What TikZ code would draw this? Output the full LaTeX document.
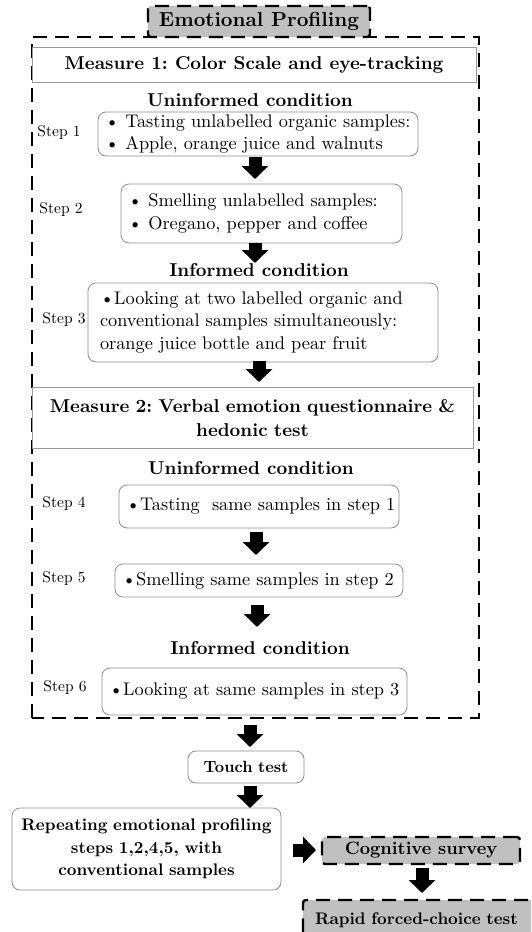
\documentclass[tikz,border=0pt]{standalone}
\usepackage{fontspec}
\setmainfont{lmroman10-regular.otf}[BoldFont=lmroman10-bold.otf]
\usetikzlibrary{arrows.meta}
\definecolor{boxgray}{HTML}{C0C0C0}
\definecolor{linegray}{HTML}{8C8C8C}
\definecolor{mgray}{HTML}{9A9A9A}
\tikzset{
  txt/.style={font=\fontsize{18.3}{22.5}\selectfont},
  bold/.style={font=\fontsize{18.6}{24}\selectfont\bfseries},
  steplbl/.style={font=\fontsize{15.5}{17}\selectfont},
  stepbox/.style={draw=linegray, line width=0.8pt, rounded corners=8pt, align=left,
    inner xsep=7pt, inner ysep=0pt, txt},
  measbox/.style={draw=mgray, line width=0.8pt, align=center, inner sep=0pt, bold},
  grayhead/.style={fill=boxgray, draw=black, line width=2.4pt, dash pattern=on 14pt off 8pt,
    rounded corners=3pt, inner sep=0pt, bold},
  outerbox/.style={draw=black, line width=2.4pt, dash pattern=on 14pt off 8pt},
  barrow/.style={line width=13pt, -{Triangle[width=26pt,length=13pt]}},
}
\begin{document}
\frenchspacing
\begin{tikzpicture}[x=1pt,y=-1pt]
\useasboundingbox (0,0) rectangle (531,932);
\clip (0,0) rectangle (531,932);
% outer dashed frame
\draw[outerbox] (32,718) -- (32,37) -- (479,37) -- (479,718) -- cycle;
\node[grayhead, minimum width=222pt, minimum height=31pt, font=\fontsize{20.3}{24}\selectfont\bfseries] (title) at (259,21.5) {Emotional Profiling};
% measure 1
\node[measbox, minimum width=444pt, minimum height=35pt] (m1) at (254,64.5) {Measure 1: Color Scale and eye-tracking};
\node[bold] (unc1) at (250,100) {Uninformed condition};
\node[stepbox, minimum width=320pt, text width=306pt, minimum height=44pt] (s1) at (258,134)
  {\textbullet\ Tasting unlabelled organic samples:\\\textbullet\ Apple, orange juice and walnuts};
\node[steplbl] (l1) at (59,133) {Step 1};
\node[stepbox, minimum width=281pt, text width=267pt, minimum height=59pt] (s2) at (261.5,213.5)
  {\textbullet\ Smelling unlabelled samples:\\\textbullet\ Oregano, pepper and coffee};
\node[steplbl] (l2) at (61,210) {Step 2};
\node[bold] (inf1) at (259,270) {Informed condition};
\node[stepbox, inner xsep=12pt, minimum width=350pt, text width=326pt, minimum height=79pt] (s3) at (263,322.5)
  {\textbullet Looking at two labelled organic and\\conventional samples simultaneously:\\orange juice bottle and pear fruit};
\node[steplbl] (l3) at (64,320) {Step 3};
% measure 2
\node[measbox, minimum width=441pt, minimum height=61pt, text width=430pt] (m2) at (252.5,417.5)
  {Measure 2: Verbal emotion questionnaire \&\\hedonic test};
\node[bold] (unc2) at (251,468) {Uninformed condition};
\node[stepbox, minimum width=280pt, text width=266pt, minimum height=43pt] (s4) at (259,506.5)
  {\mbox{\textbullet Tasting\ \ same samples in step 1}};
\node[steplbl] (l4) at (64,504) {Step 4};
\node[stepbox, minimum width=288pt, text width=274pt, minimum height=33pt] (s5) at (259,580.5)
  {\mbox{\textbullet Smelling same samples in step 2}};
\node[steplbl] (l5) at (64,579) {Step 5};
\node[bold] (inf2) at (260,648) {Informed condition};
\node[stepbox, minimum width=305pt, text width=291pt, minimum height=47pt] (s6) at (254.5,691.5)
  {\mbox{\textbullet Looking at same samples in step 3}};
\node[steplbl] (l6) at (65,688) {Step 6};
% after frame
\node[stepbox, align=center, minimum width=116pt, text width=102pt, minimum height=32pt,
  font=\fontsize{16.2}{22.5}\selectfont\bfseries] (touch) at (246,767) {Touch test};
\node[stepbox, align=center, minimum width=269pt, text width=255pt, minimum height=82pt,
  font=\fontsize{16.8}{22.5}\selectfont\bfseries] (rep) at (146.5,849)
  {Repeating emotional profiling\\steps 1,2,4,5, with\\conventional samples};
\node[grayhead, minimum width=198pt, minimum height=27pt, font=\fontsize{18}{22}\selectfont\bfseries] (cog) at (421,850.5) {Cognitive survey};
\node[grayhead, minimum width=250pt, minimum height=40pt, inner xsep=12pt, text width=226pt, align=left,
  font=\fontsize{16.8}{22}\selectfont\bfseries] (rapid) at (428,920) {Rapid forced-choice test};
% arrows
\draw[barrow] (255,157) -- (255,179);
\draw[barrow] (255,243) -- (255,263);
\draw[barrow] (259,361) -- (259,382);
\draw[barrow] (256,532) -- (256,555);
\draw[barrow] (257,605) -- (257,627);
\draw[barrow] (250,725) -- (250,747);
\draw[barrow] (250,786) -- (250,808);
\draw[barrow] (293,850) -- (316,850);
\draw[barrow] (422,868) -- (422,893);
\end{tikzpicture}
\end{document}
